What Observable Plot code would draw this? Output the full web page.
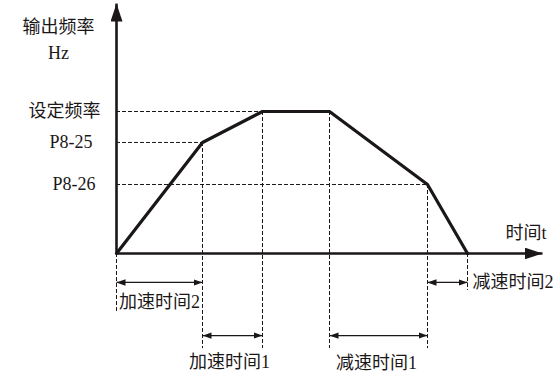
<!DOCTYPE html>
<html>
<head>
<meta charset="utf-8">
<script src="https://cdn.jsdelivr.net/npm/d3@7"></script>
<script src="https://cdn.jsdelivr.net/npm/@observablehq/plot@0.6"></script>
<style>
  html, body { margin: 0; padding: 0; background: #fff; }
  svg { display: block; }
</style>
</head>
<body>
<div id="chart"></div>
<script>
// ---- data ----
// key time instants of the speed profile (arbitrary time units)
const curveTimes = [0, 8.6, 14.6, 21.3, 31.1, 35.1];
// output frequency (Hz, set frequency taken as 50)
const curveFreqs = [0, 39.1, 50, 50, 24.3, 0];
// frequency reference levels
const levelNames = ["设定频率", "P8-25", "P8-26"];
const levelValues = [50, 39.1, 24.3];
const levelEndTimes = [14.6, 8.6, 31.1];
// ramp phases
const phaseNames = ["加速时间2", "加速时间1", "减速时间1", "减速时间2"];
const phaseStarts = [0, 8.6, 21.3, 31.1];
const phaseEnds = [8.6, 14.6, 31.1, 35.1];
// axis titles
const yTitle = "输出频率\nHz";
const xTitle = "时间t";

// ---- layout constants ----
const ink = "#1b1718";
const cjk = "'Liberation Serif', 'Noto Sans CJK SC', serif";
const xMax = 42.6, yMax = 88;
const rowA = -10.2, rowB = -28.9;              // arrow rows below the axis
const dashBottoms = [-20.8, -33.5, -33.5, -33.5, -33.5, -13]; // for each key instant
const phaseRows = [rowA, rowB, rowB, rowA];

const curve = curveTimes.map((t, i) => ({t, f: curveFreqs[i], bottom: dashBottoms[i]}));
const levels = levelNames.map((name, i) => ({name, f: levelValues[i], end: levelEndTimes[i]}));
const phases = phaseNames.map((name, i) => ({name, start: phaseStarts[i], end: phaseEnds[i], row: phaseRows[i]}));

function triMarker(len, half) {
  return (color) => {
    const m = d3.create("svg:marker")
      .attr("viewBox", `0 ${-half} ${len} ${2 * half}`)
      .attr("markerWidth", len)
      .attr("markerHeight", 2 * half)
      .attr("markerUnits", "userSpaceOnUse")
      .attr("refX", len)
      .attr("refY", 0)
      .attr("orient", "auto-start-reverse");
    m.append("path")
      .attr("d", `M0,${-half}L${len},0L0,${half}Z`)
      .attr("fill", color)
      .attr("stroke", "none");
    return m.node();
  };
}
const bigHead = triMarker(18, 6);
const smallHead = triMarker(9, 3.2);

const yLabelText = (i, dx) => Plot.text([levels[i]], {
  x: 0, y: "f", text: "name", textAnchor: "end", dx,
  fontSize: 18, fontFamily: cjk, fill: ink
});

const chart = Plot.plot({
  width: 560,
  height: 374,
  x: {domain: [0, xMax], range: [116, 542], axis: null},
  y: {domain: [0, 50], range: [253, 111], axis: null},
  marks: [
    // horizontal dashed guides
    Plot.ruleY(levels, {y: "f", x1: 0, x2: "end", stroke: ink, strokeWidth: 1, strokeDasharray: "4,2"}),
    // vertical dashed guides
    Plot.ruleX(curve, {x: "t", y1: "f", y2: "bottom", stroke: ink, strokeWidth: 1, strokeDasharray: "4,2"}),
    // double-headed duration arrows
    Plot.link(phases, {x1: "start", x2: "end", y1: "row", y2: "row", stroke: ink, strokeWidth: 1.2,
      markerStart: smallHead, markerEnd: smallHead}),
    // axes
    Plot.link([{x1: 0, y1: 0, x2: 0, y2: yMax}], {x1: "x1", y1: "y1", x2: "x2", y2: "y2", stroke: ink, strokeWidth: 2.6, markerEnd: bigHead}),
    Plot.link([{x1: 0, y1: 0, x2: xMax, y2: 0}], {x1: "x1", y1: "y1", x2: "x2", y2: "y2", stroke: ink, strokeWidth: 2.6, markerEnd: bigHead}),
    // frequency profile
    Plot.line(curve, {x: "t", y: "f", stroke: ink, strokeWidth: 3.2, strokeLinejoin: "miter"}),
    // level labels
    yLabelText(0, -16),
    yLabelText(1, -24),
    yLabelText(2, -21),
    // axis titles
    Plot.text([yTitle], {x: -5.8, y: 75.9, text: d => d, lineHeight: 1.4, fontSize: 18, fontFamily: cjk, fill: ink}),
    Plot.text([xTitle], {x: 38.9, y: 7, text: d => d, textAnchor: "start", fontSize: 18, fontFamily: cjk, fill: ink}),
    // phase labels
    Plot.text([phases[0]], {x: d => (d.start + d.end) / 2, y: -17.2, text: "name", fontSize: 18, fontFamily: cjk, fill: ink}),
    Plot.text([phases[1]], {x: d => (d.start + d.end) / 2, y: -38.4, text: "name", fontSize: 18, fontFamily: cjk, fill: ink, dx: -3}),
    Plot.text([phases[2]], {x: d => (d.start + d.end) / 2, y: -38.7, text: "name", fontSize: 18, fontFamily: cjk, fill: ink, dx: -2}),
    Plot.text([phases[3]], {x: "end", y: "row", text: "name", textAnchor: "start", dx: 5, fontSize: 18, fontFamily: cjk, fill: ink})
  ]
});
document.getElementById("chart").append(chart);
</script>
</body>
</html>
